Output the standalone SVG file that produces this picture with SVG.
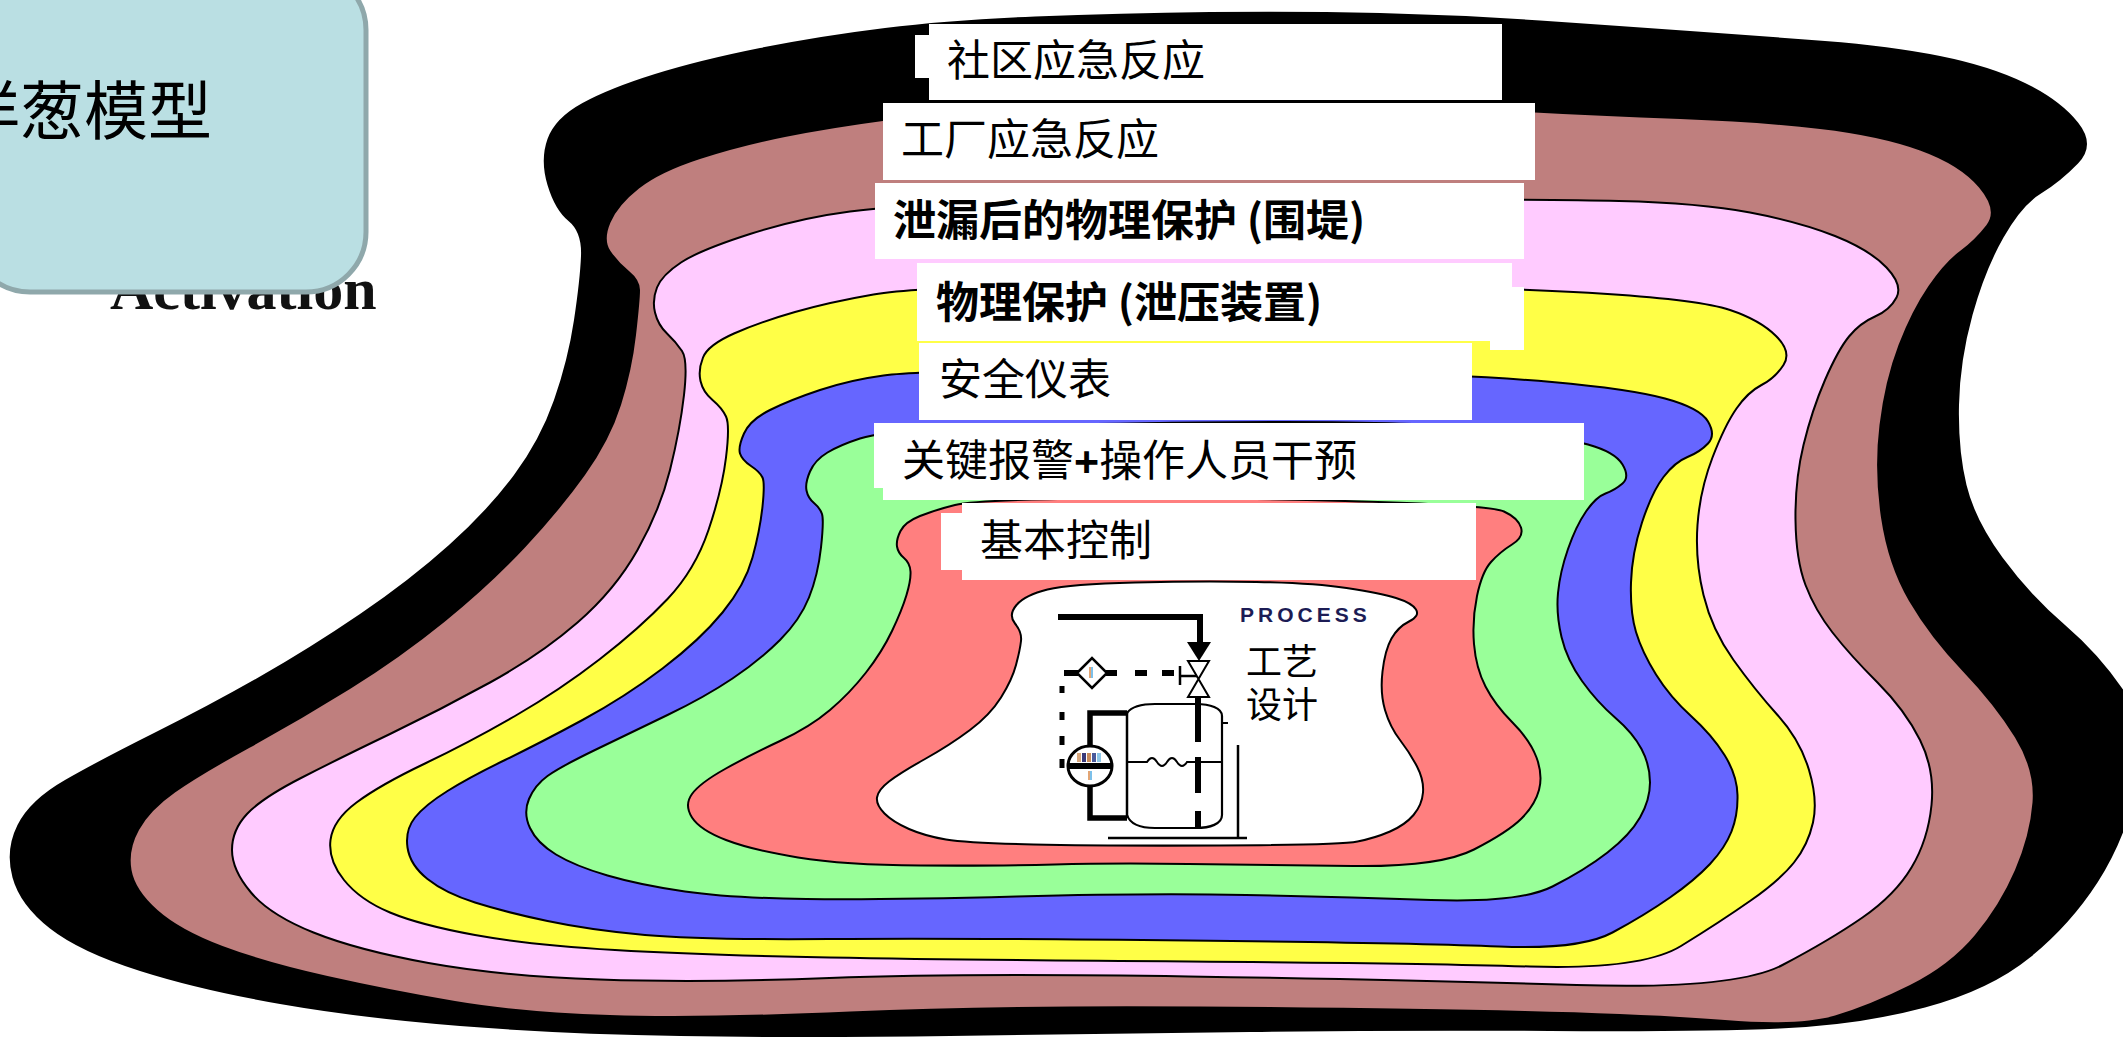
<svg xmlns="http://www.w3.org/2000/svg" width="2123" height="1040" viewBox="0 0 2123 1040">
  <style>
    .ring { stroke: #000; stroke-width: 2; stroke-linejoin: round; }
    .box { fill: #fff; }
    .cjk { font-family: "Noto Sans CJK SC", "Noto Sans", sans-serif; fill: #000; }
    .lbl { font-size: 43px; }
    .heavy { font-weight: bold; }
    .pipe { stroke: #000; fill: none; stroke-linecap: butt; }
  </style>

  <rect width="2123" height="1040" fill="#fff"/>

  <!-- protection layers, outermost first -->
  <g id="layer-community">
    <path fill="#000" d="M547.5,185 Q540,160 547.5,139 Q555,118 582.5,103 Q610,88 655,74 Q700,60 760,48 Q820,36 885,28 Q950,20 1035,16.5 Q1120,13 1210,12 Q1300,11 1380,13 Q1460,15 1540,20.5 Q1620,26 1690,31 Q1760,36 1825,41 Q1890,46 1940,56 Q1990,66 2025,83 Q2060,100 2078,122.5 Q2096,145 2078,163.5 Q2060,182 2041,193.5 Q2022,205 2003.5,237.5 Q1985,270 1972.5,315 Q1960,360 1959,405 Q1958,450 1966.5,485 Q1975,520 2002.5,557.5 Q2030,595 2065,625 Q2100,655 2125,692.5 Q2150,730 2137.5,785 Q2125,840 2097.5,882.5 Q2070,925 2030,957.5 Q1990,990 1925,1007.5 Q1860,1025 1780,1028.5 Q1700,1032 1550,1031 Q1400,1030 1250,1032 Q1100,1034 950,1036 Q800,1038 680,1036 Q560,1034 460,1026 Q360,1018 280,1004 Q200,990 140,971 Q80,952 50,928.5 Q20,905 12.5,877.5 Q5,850 17.5,825 Q30,800 65,780 Q100,760 155,732.5 Q210,705 260,676.5 Q310,648 360,614 Q410,580 449,545 Q488,510 514,475 Q540,440 554,400 Q568,360 574,320 Q580,280 581,256 Q582,232 568.5,221 Q555,210 547.5,185 Z"/>
  </g>
  <g id="layer-plant">
    <path fill="#BF7F7E" d="M610.5,251 Q603,240 610.5,222.5 Q618,205 639,188.5 Q660,172 700,159 Q740,146 785,137 Q830,128 890,120 Q950,112 1075,109 Q1200,106 1325,107 Q1450,108 1525,112 Q1600,116 1680,119 Q1760,122 1820,129 Q1880,136 1920,150.5 Q1960,165 1979,187.5 Q1998,210 1986.5,225 Q1975,240 1960,251 Q1945,262 1928.5,286 Q1912,310 1898.5,345 Q1885,380 1879.5,425 Q1874,470 1881,517.5 Q1888,565 1909,601 Q1930,637 1962.5,671 Q1995,705 2015,737.5 Q2035,770 2032.5,802.5 Q2030,835 2015,870 Q2000,905 1975,935 Q1950,965 1910,985 Q1870,1005 1835,1015.5 Q1800,1026 1725,1020 Q1650,1014 1525,1011 Q1400,1008 1200,1006.5 Q1000,1005 850,1011.5 Q700,1018 610,1015 Q520,1012 455,1001 Q390,990 327.5,976 Q265,962 222.5,946 Q180,930 157.5,910 Q135,890 131.5,870 Q128,850 139,830 Q150,810 175,792.5 Q200,775 250,747.5 Q300,720 350,689 Q400,658 445,621.5 Q490,585 525,547.5 Q560,510 585,475 Q610,440 621,405 Q632,370 636,335 Q640,300 640,290 Q640,280 629,271 Q618,262 610.5,251 Z"/>
  </g>
  <g id="layer-dike">
    <path class="ring" fill="#FFCBFF" d="M655,312.5 Q652,300 657,287.5 Q662,275 681,262.5 Q700,250 750,234 Q800,218 850,211.5 Q900,205 1000,202.5 Q1100,200 1319,199.5 Q1538,199 1619,201 Q1700,203 1750,212.5 Q1800,222 1835,236 Q1870,250 1886.5,267.5 Q1903,285 1896.5,297.5 Q1890,310 1875,316.5 Q1860,323 1849,336.5 Q1838,350 1825,380 Q1812,410 1803.5,445 Q1795,480 1795.5,520 Q1796,560 1805.5,585 Q1815,610 1832.5,632.5 Q1850,655 1877.5,682.5 Q1905,710 1920,740 Q1935,770 1931.5,805 Q1928,840 1911.5,867.5 Q1895,895 1862.5,917.5 Q1830,940 1782.5,965 Q1735,990 1576.5,985 Q1418,980 1188.5,976.5 Q959,973 829.5,978 Q700,983 600,979.5 Q500,976 428.5,963 Q357,950 313.5,932.5 Q270,915 251,892.5 Q232,870 232,850 Q232,830 247,814 Q262,798 301,778 Q340,758 390,734 Q440,710 490,682.5 Q540,655 577.5,622.5 Q615,590 637.5,550 Q660,510 670,470 Q680,430 684,395 Q688,360 682,351 Q676,342 667,333.5 Q658,325 655,312.5 Z"/>
  </g>
  <g id="layer-relief">
    <path class="ring" fill="#FFFF47" d="M700.5,381 Q698,370 703,357.5 Q708,345 734,333.5 Q760,322 795,312 Q830,302 873.5,294.5 Q917,287 1058.5,285 Q1200,283 1357.5,285.5 Q1515,288 1607.5,294 Q1700,300 1730,310 Q1760,320 1776,336 Q1792,352 1783.5,365 Q1775,378 1761.5,385 Q1748,392 1736.5,408.5 Q1725,425 1712.5,457.5 Q1700,490 1697.5,525 Q1695,560 1703.5,595 Q1712,630 1733.5,660 Q1755,690 1777.5,715 Q1800,740 1809,770 Q1818,800 1813,822.5 Q1808,845 1794,862.5 Q1780,880 1750,901 Q1720,922 1681,946 Q1642,970 1530,966.5 Q1418,963 1188.5,961.5 Q959,960 829.5,957.5 Q700,955 615,950 Q530,945 475,935 Q420,925 390,912.5 Q360,900 344,880 Q328,860 330.5,840 Q333,820 356.5,802.5 Q380,785 425,763.5 Q470,742 515,716 Q560,690 600,659 Q640,628 667.5,599 Q695,570 708.5,530 Q722,490 726,457.5 Q730,425 726,416.5 Q722,408 712.5,400 Q703,392 700.5,381 Z"/>
  </g>
  <g id="layer-sis">
    <path class="ring" fill="#6666FF" d="M740,453.5 Q738,447 744,433.5 Q750,420 770,410 Q790,400 820,390 Q850,380 883.5,375.5 Q917,371 1058.5,369.5 Q1200,368 1337,371.5 Q1474,375 1552,382 Q1630,389 1665,398.5 Q1700,408 1708,421.5 Q1716,435 1708,443.5 Q1700,452 1687.5,457 Q1675,462 1663.5,477 Q1652,492 1642,522.5 Q1632,553 1631,582.5 Q1630,612 1636,632 Q1642,652 1656,674.5 Q1670,697 1691,716 Q1712,735 1724.5,755 Q1737,775 1737.5,795 Q1738,815 1731.5,831.5 Q1725,848 1710,864 Q1695,880 1670,897.5 Q1645,915 1612.5,932.5 Q1580,950 1499,946.5 Q1418,943 1188.5,940.5 Q959,938 829.5,939 Q700,940 645,935 Q590,930 547.5,921 Q505,912 475,902.5 Q445,893 427.5,879 Q410,865 407.5,847.5 Q405,830 415,817.5 Q425,805 447.5,791 Q470,777 505,760 Q540,743 582.5,720 Q625,697 662.5,668.5 Q700,640 722.5,612.5 Q745,585 752.5,557.5 Q760,530 762.5,506.5 Q765,483 762.5,477.5 Q760,472 751,466 Q742,460 740,453.5 Z"/>
  </g>
  <g id="layer-alarm">
    <path class="ring" fill="#99FF99" d="M806.5,490.5 Q805,483 810,471.5 Q815,460 827.5,452.5 Q840,445 860,438.5 Q880,432 940,428.5 Q1000,425 1200,422.5 Q1400,420 1480.5,428.5 Q1561,437 1588,444.5 Q1615,452 1622.5,464.5 Q1630,477 1622.5,483.5 Q1615,490 1605.5,493.5 Q1596,497 1586,511.5 Q1576,526 1568,549 Q1560,572 1558,593 Q1556,614 1561.5,637 Q1567,660 1582,681 Q1597,702 1615,717.5 Q1633,733 1641.5,749 Q1650,765 1650,782.5 Q1650,800 1640,817.5 Q1630,835 1607.5,852.5 Q1585,870 1552.5,886.5 Q1520,903 1431,900 Q1342,897 1246,895 Q1150,893 1016.5,896.5 Q883,900 806.5,899 Q730,898 685,891.5 Q640,885 607.5,875.5 Q575,866 556,854.5 Q537,843 530,828 Q523,813 529,799 Q535,785 547.5,776 Q560,767 595,750 Q630,733 667.5,715 Q705,697 732.5,678.5 Q760,660 780,640 Q800,620 809,597.5 Q818,575 821,547.5 Q824,520 822,514 Q820,508 814,503 Q808,498 806.5,490.5 Z"/>
  </g>
  <g id="layer-control">
    <path class="ring" fill="#FF7F7F" d="M897,546.5 Q896,540 900.5,531 Q905,522 920,516 Q935,510 955,505 Q975,500 1087.5,498.5 Q1200,497 1345,501 Q1490,505 1504,511.5 Q1518,518 1521,527.5 Q1524,537 1512,544.5 Q1500,552 1491,562 Q1482,572 1477,596 Q1472,620 1474,644 Q1476,668 1485.5,686.5 Q1495,705 1512.5,722.5 Q1530,740 1536.5,757.5 Q1543,775 1539,790 Q1535,805 1521.5,818.5 Q1508,832 1474,849.5 Q1440,867 1352.5,866 Q1265,865 1188.5,864 Q1112,863 1054.5,864.5 Q997,866 920.5,865.5 Q844,865 798,857.5 Q752,850 726,840 Q700,830 692,817.5 Q684,805 692,794 Q700,783 725,769 Q750,755 780,741 Q810,727 830,710 Q850,693 866,672.5 Q882,652 892,631 Q902,610 906.5,595 Q911,580 910.5,571.5 Q910,563 904,558 Q898,553 897,546.5 Z"/>
  </g>

  <!-- process core with its sketch -->
  <g id="process">
    <path class="ring" fill="#fff" d="M1015,623.5 Q1008,615 1016.5,605 Q1025,595 1047.5,589.5 Q1070,584 1135,582.5 Q1200,581 1256.5,582 Q1313,583 1346.5,588 Q1380,593 1396,598 Q1412,603 1416,609.5 Q1420,616 1409,621.5 Q1398,627 1391.5,638.5 Q1385,650 1382.5,671.5 Q1380,693 1385,710 Q1390,727 1400,740 Q1410,753 1417,766.5 Q1424,780 1423,792.5 Q1422,805 1413.5,815 Q1405,825 1390,831.5 Q1375,838 1357.5,841.5 Q1340,845 1220,845.5 Q1100,846 1033.5,844.5 Q967,843 946,839.5 Q925,836 909,829 Q893,822 884.5,813.5 Q876,805 877,797.5 Q878,790 889,781.5 Q900,773 925,759 Q950,745 970,730 Q990,715 1001,697.5 Q1012,680 1016,665 Q1020,650 1021,641 Q1022,632 1015,623.5 Z"/>
    <text x="1240" y="622" font-family="'Liberation Sans', Arial, sans-serif" font-weight="bold" font-size="21" letter-spacing="4" fill="#1C1C55">PROCESS</text>
    <text class="cjk" x="1246" y="675" font-size="36">工艺</text>
    <text class="cjk" x="1246" y="718" font-size="36">设计</text>
  </g>

  <!-- piping and instrument lines of the process sketch -->
  <g id="piping">
    <path class="pipe" stroke-width="6" d="M1058,617 H1200 V645"/>
    <polygon points="1187,642 1211,642 1199,661" fill="#000"/>
    <polygon points="1188,661 1209,661 1198.5,679 1209,697 1188,697 1198.5,679" fill="#fff" stroke="#000" stroke-width="2" stroke-linejoin="miter"/>
    <path class="pipe" stroke-width="2.5" d="M1180,666 V685 M1180,676 H1197"/>
    <path class="pipe" stroke-width="6" d="M1064,673 H1078 M1106,673 H1117 M1135,673 H1147 M1162,673 H1174"/>
    <polygon points="1077,673 1092,658 1107,673 1092,688" fill="#fff" stroke="#000" stroke-width="2.5"/>
    <rect x="1089" y="667" width="2" height="11" fill="#E3A574"/>
    <rect x="1091" y="667" width="2" height="11" fill="#7CC0EA"/>
    <path class="pipe" stroke-width="5" d="M1062,686 V693 M1062,712 V720 M1062,736 V745 M1062,759 V768"/>
    <path class="pipe" stroke-width="5.5" d="M1090,746 V713 H1127 M1090,786 V818 H1127"/>
    <ellipse cx="1090" cy="766" rx="22" ry="20" fill="#fff" stroke="#000" stroke-width="3"/>
    <path class="pipe" stroke-width="6" d="M1068,766 H1112"/>
    <rect x="1077" y="753" width="4" height="9" fill="#D9A77C"/>
    <rect x="1082" y="753" width="4" height="9" fill="#3A3A7A"/>
    <rect x="1087" y="753" width="4" height="9" fill="#C98A5A"/>
    <rect x="1092" y="753" width="4" height="9" fill="#4A5A9A"/>
    <rect x="1097" y="753" width="4" height="9" fill="#8EC7E8"/>
    <rect x="1088" y="771" width="2" height="9" fill="#E3A574"/>
    <rect x="1090" y="771" width="2" height="9" fill="#7CC0EA"/>
    <path class="pipe" stroke-width="2.5" stroke="#222" d="M1127,713 V818"/>
    <path class="pipe" stroke-width="2.2" d="M1127,713 C1132,706 1142,704 1155,704 H1196 C1210,704 1222,708 1222,716 V815 C1222,824 1210,828 1196,828 H1155 C1140,828 1130,824 1127,815"/>
    <path class="pipe" stroke-width="2" d="M1222,723 H1228"/>
    <path class="pipe" stroke-width="2" d="M1127,762 H1147 q5,-8 10,0 t10,0 t10,0 t10,0 H1222"/>
    <path class="pipe" stroke-width="6" d="M1198,697 V742 M1198,757 V793 M1198,811 V828"/>
    <path class="pipe" stroke-width="2.5" stroke="#222" d="M1238,745 V837"/>
    <path class="pipe" stroke-width="2.5" stroke="#C8C8C8" d="M1108,838 H1247"/>
  </g>

  <!-- layer labels -->
  <g id="label-community">
    <rect class="box" x="929" y="24" width="573" height="76"/>
    <rect class="box" x="915" y="35" width="16" height="43"/>
    <text class="cjk lbl" x="947" y="76">社区应急反应</text>
  </g>
  <g id="label-plant">
    <rect class="box" x="883" y="103" width="652" height="77"/>
    <text class="cjk lbl" x="901" y="155">工厂应急反应</text>
  </g>
  <g id="label-dike">
    <rect class="box" x="875" y="183" width="649" height="76"/>
    <text class="cjk lbl heavy" x="893" y="236">泄漏后的物理保护 (围堤)</text>
  </g>
  <g id="label-relief">
    <rect class="box" x="917" y="263" width="595" height="78"/>
    <rect class="box" x="1490" y="287" width="34" height="63"/>
    <text class="cjk lbl heavy" x="936" y="318">物理保护 (泄压装置)</text>
  </g>
  <g id="label-sis">
    <rect class="box" x="919" y="343" width="553" height="77"/>
    <text class="cjk lbl" x="939" y="395">安全仪表</text>
  </g>
  <g id="label-alarm">
    <rect class="box" x="874" y="423" width="710" height="65"/>
    <rect class="box" x="883" y="486" width="701" height="14"/>
    <text class="cjk lbl" x="902" y="476">关键报警<tspan font-family="'Liberation Sans', Arial, sans-serif" font-weight="bold">+</tspan>操作人员干预</text>
  </g>
  <g id="label-control">
    <rect class="box" x="962" y="503" width="514" height="77"/>
    <rect class="box" x="941" y="513" width="23" height="57"/>
    <text class="cjk lbl" x="980" y="556">基本控制</text>
  </g>

  <!-- title card -->
  <g id="title">
    <text x="110" y="309" font-family="'Liberation Serif', 'Times New Roman', serif" font-weight="bold" font-size="60" fill="#111">Activation</text>
    <rect x="-30" y="-30" width="396" height="322" rx="60" fill="#BADFE3" stroke="#8FA8AB" stroke-width="5"/>
    <text class="cjk" x="-44" y="134" font-size="64">洋葱模型</text>
  </g>
</svg>
